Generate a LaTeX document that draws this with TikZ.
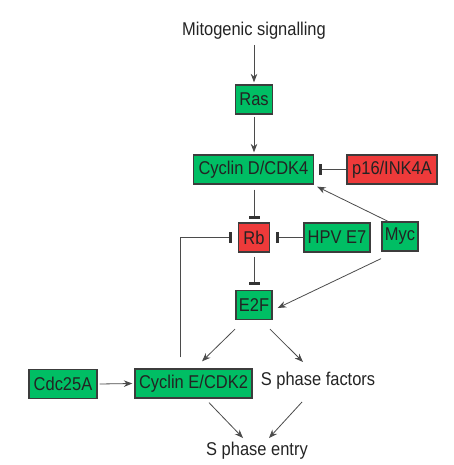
\documentclass[tikz,border=0pt]{standalone}
\usepackage{fontspec}
\setmainfont[FakeStretch=0.89]{Liberation Sans}
\usetikzlibrary{arrows.meta,calc}
\definecolor{boxgreen}{RGB}{0,190,100}
\definecolor{boxred}{RGB}{238,58,58}
\definecolor{edgegray}{RGB}{75,75,75}
\definecolor{txt}{RGB}{35,35,35}
\begin{document}
\begin{tikzpicture}[x=1pt,y=-1pt,
  every node/.style={font=\fontsize{18.5}{21}\selectfont, text=txt},
  gbox/.style={draw=edgegray!80!black, line width=1.3pt, fill=boxgreen, minimum height=29pt, inner xsep=0pt, inner ysep=0pt},
  rbox/.style={gbox, fill=boxred},
  label/.style={inner sep=0pt},
  act/.style={draw=edgegray, line width=0.8pt, -{Stealth[length=8.5pt,width=6.5pt]}},
  inh/.style={draw=edgegray, line width=0.8pt, -{Bar[width=11pt,line width=3pt,color=black!80]}},
]
\useasboundingbox (0,0) rectangle (453,465);
% nodes
\node[label] (mito) at (254,31) {Mitogenic signalling};
\node[gbox, minimum width=37pt] (ras) at (254,99.5) {Ras};
\node[gbox, minimum width=120pt] (cycd) at (253.5,169.5) {Cyclin D/CDK4};
\node[rbox, minimum width=90pt] (p16) at (392,169.5) {p16/INK4A};
\node[rbox, minimum width=31pt] (rb) at (254,237.5) {Rb};
\node[gbox, minimum width=66pt] (hpv) at (337,237.5) {HPV E7};
\node[gbox, minimum width=36pt] (myc) at (400,236.5) {Myc};
\node[gbox, minimum width=36pt] (e2f) at (254,305) {E2F};
\node[gbox, minimum width=68pt] (cdc) at (63,384) {Cdc25A};
\node[gbox, minimum width=117pt] (cyce) at (193.5,383.5) {Cyclin E/CDK2};
\node[label] (spf) at (318,381) {S phase factors};
\node[label] (sentry) at (257,451) {S phase entry};
% connectors
\draw[act] ([yshift=-14pt]mito.center) -- ([yshift=2pt]ras.north);
\draw[act] ([yshift=-2pt]ras.south) -- ([yshift=2pt]ras.north |- cycd.north);
\draw[inh] (p16.west) -- ([xshift=4.5pt]cycd.east);
\draw[act] ([xshift=-12pt]myc.north) -- ([shift={(3pt,-2pt)}]cycd.south east);
\draw[inh] ([yshift=-5pt]rb.north |- cycd.south) -- ([yshift=3.5pt]rb.north);
\draw[inh] (hpv.west) -- ([xshift=5.5pt]rb.east);
\draw[inh] ([xshift=-13.5pt,yshift=11pt]cyce.north) |- ([xshift=-5.5pt]rb.west);
\draw[inh] ([yshift=-4pt]rb.south) -- ([yshift=4.5pt]e2f.north);
\draw[act] ([shift={(-19pt,-7pt)}]myc.south) -- ([shift={(5pt,-3pt)}]e2f.east);
\draw[act] ([shift={(-19pt,-9pt)}]e2f.south) -- ([shift={(8.5pt,7pt)}]cyce.north);
\draw[act] ([shift={(16pt,-9pt)}]e2f.south) -- ([shift={(-15pt,19pt)}]spf.center);
\draw[act] ([xshift=2pt]cdc.east) -- ([xshift=-2pt]cyce.west);
\draw[act] ([shift={(15.5pt,-4pt)}]cyce.south) -- ([shift={(-14pt,13pt)}]sentry.center);
\draw[act] ([shift={(-16pt,-21pt)}]spf.center) -- ([shift={(12pt,13pt)}]sentry.center);
\end{tikzpicture}
\end{document}
